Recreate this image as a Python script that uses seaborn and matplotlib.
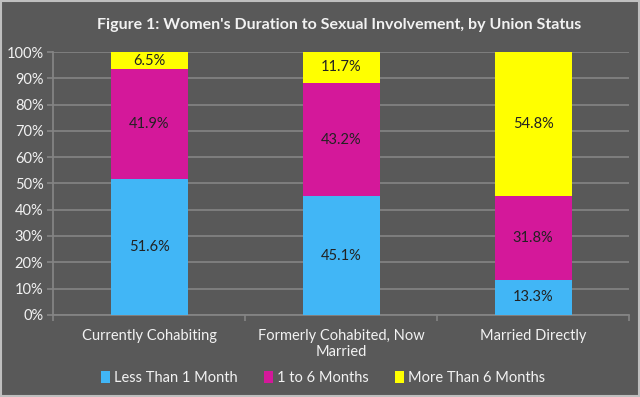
import numpy as np
import pandas as pd
import matplotlib
matplotlib.use("Agg")
import matplotlib.pyplot as plt
import seaborn as sns
from matplotlib.patches import Patch

categories = ["Currently Cohabiting", "Formerly Cohabited, Now\nMarried", "Married Directly"]
series = ["Less Than 1 Month", "1 to 6 Months", "More Than 6 Months"]
less_than_1 = [51.6, 45.1, 13.3]
one_to_6 = [41.9, 43.2, 31.8]
more_than_6 = [6.5, 11.7, 54.8]
colors = ["#41b6f6", "#d4189a", "#ffff00"]

bg = "#595959"
grid = "#858585"
txt = "#f2f2f2"

sns.set_theme(style="dark")
plt.rcParams["font.family"] = ["Lato", "DejaVu Sans"]

df = pd.DataFrame({"category": categories,
                   series[0]: less_than_1,
                   series[1]: one_to_6,
                   series[2]: more_than_6})

fig = plt.figure(figsize=(6.4, 3.97), dpi=100, facecolor=bg)
ax = fig.add_axes([0.083, 0.207, 0.9, 0.662])
ax.set_facecolor(bg)

bottom = np.zeros(len(categories))
for name, col in zip(series, colors):
    vals = df[name].values
    sns.barplot(x=df["category"], y=vals, bottom=bottom, color=col, width=0.4,
                ax=ax, saturation=1, edgecolor="none", zorder=3)
    for i, v in enumerate(vals):
        ax.text(i, bottom[i] + v / 2, f"{v:.1f}%", ha="center", va="center",
                fontsize=10.5, color="#222222", zorder=4)
    bottom = bottom + vals

ax.set_ylim(0, 100)
ax.set_xlim(-0.5, 2.5)
ax.set_yticks(np.arange(0, 101, 10))
ax.set_yticklabels([f"{t}%" for t in range(0, 101, 10)])
ax.set_xticks([-0.5, 0.5, 1.5, 2.5], minor=True)
ax.yaxis.grid(True, color=grid, linewidth=1.2, zorder=0)
ax.xaxis.grid(False)
for s in ["top", "right"]:
    ax.spines[s].set_visible(False)
ax.spines["left"].set_color(grid)
ax.spines["bottom"].set_color(grid)
ax.tick_params(axis="y", colors=grid, labelcolor=txt, labelsize=10.5,
               length=4, width=1.2, direction="out", left=True, pad=3)
ax.tick_params(axis="x", which="major", colors=txt, labelsize=10.5, length=0, pad=10)
ax.tick_params(axis="x", which="minor", colors=grid, length=4, width=1.2,
               direction="out", bottom=True)
ax.set_xlabel("")
ax.set_ylabel("")

fig.text(0.53, 0.937, "Figure 1: Women's Duration to Sexual Involvement, by Union Status",
         ha="center", va="center", fontsize=11.5, fontweight="bold", color=txt)

handles = [Patch(facecolor=c, edgecolor="none", label=n) for n, c in zip(series, colors)]
fig.legend(handles=handles, loc="center", bbox_to_anchor=(0.505, 0.048), ncol=3,
           frameon=False, fontsize=10.5, labelcolor=txt, handlelength=0.6,
           handleheight=0.9, handletextpad=0.3, columnspacing=1.8)

fig.patches.append(plt.Rectangle((0.002, 0.002), 0.996, 0.996, transform=fig.transFigure,
                                 fill=False, edgecolor="#bfbfbf", linewidth=1.5))

fig.savefig("out.png", dpi=100, facecolor=bg)
